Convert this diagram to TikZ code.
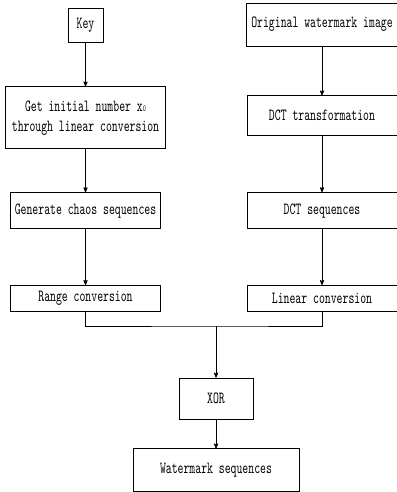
\documentclass[tikz,border=0pt]{standalone}
\usepackage{fontspec}
\newfontfamily\boxfont{lmmono10-regular}[Extension=.otf,FakeStretch=0.66]
\usetikzlibrary{arrows}
\usetikzlibrary{calc}
\usetikzlibrary{positioning}

\begin{document}
\begin{tikzpicture}[->,>=stealth',line width=0.8pt,
	box node/.style={rectangle,draw,inner sep=0pt,align=center,font=\boxfont\fontsize{17}{20}\selectfont}]
				\useasboundingbox (0,0) rectangle (396pt,-492pt);

				% left column
				\node[box node,minimum width=35pt,minimum height=34pt] (key) at (85.5pt,-25pt) {Key};
				\node[box node,minimum width=160pt,minimum height=62pt] (init) [below=44pt of key] {Get initial number x{\fontsize{9}{9}\selectfont 0}\\through linear conversion};
				\node[box node,minimum width=150pt,minimum height=36pt] (chaos) [below=43pt of init] {Generate chaos sequences};
				\node[box node,minimum width=150pt,minimum height=26pt] (range) [below=56pt of chaos] {Range conversion};

				% right column
				\node[box node,minimum width=152pt,minimum height=43pt] (orig) at (322pt,-24.5pt) {Original watermark image};
				\node[box node,minimum width=150pt,minimum height=40pt] (dct) [below=49pt of orig] {DCT transformation};
				\node[box node,minimum width=150pt,minimum height=36pt] (dctseq) [below=56pt of dct] {DCT sequences};
				\node[box node,minimum width=150pt,minimum height=26pt] (linear) [below=56pt of dctseq] {Linear conversion};

				% bottom
				\node[box node,minimum width=74pt,minimum height=41pt] (xor) at (216pt,-398.5pt) {XOR};
				\node[box node,minimum width=166pt,minimum height=43pt] (wm) [below=29pt of xor] {Watermark sequences};
				\coordinate (join) at (xor |- 0,-326pt);

				\path
				(key) edge (init)
				(init) edge (chaos)
				(chaos) edge (range)
				(orig) edge (dct)
				(dct) edge (dctseq)
				(dctseq) edge (linear)
				(join) edge (xor)
				(xor) edge (wm);
				\draw[-] (range.south) |- (join) -| (linear.south);

\end{tikzpicture}
\end{document}
